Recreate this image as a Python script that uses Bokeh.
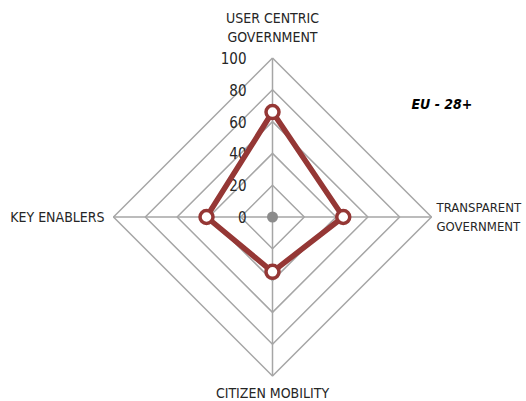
import math
from bokeh.plotting import figure
from bokeh.models import Range1d, Label
from bokeh.core.properties import value
from bokeh.embed import file_html
from bokeh.resources import INLINE

categories = ["USER CENTRIC\nGOVERNMENT", "TRANSPARENT\nGOVERNMENT", "CITIZEN MOBILITY", "KEY ENABLERS"]
angles_deg = [90, 0, -90, 180]
series_values = [66, 44.5, 34.5, 41.5]
tick_values = [0, 20, 40, 60, 80, 100]
tick_labels = ["0", "20", "40", "60", "80", "100"]
series_name = "EU - 28+"

FONT = "DejaVu Sans Condensed"
W, H = 526, 401
scale = 1.59  # px per unit
cx, cy = 272, 216.5  # center in figure px (from left, from top)

p = figure(width=W, height=H, output_backend="svg", toolbar_location=None,
           x_range=Range1d(-cx / scale, (W - cx) / scale),
           y_range=Range1d(-(H - cy) / scale, cy / scale),
           min_border=0, outline_line_color=None)
p.axis.visible = False
p.grid.visible = False
p.background_fill_color = "white"
p.border_fill_color = "white"

rad = [math.radians(a) for a in angles_deg]
rmax = tick_values[-1]

# grid rings
xs_ring, ys_ring = [], []
for t in tick_values[1:]:
    xs_ring.append([t * math.cos(a) for a in rad] + [t * math.cos(rad[0])])
    ys_ring.append([t * math.sin(a) for a in rad] + [t * math.sin(rad[0])])
p.multi_line(xs_ring, ys_ring, line_color="#a6a6a6", line_width=1.5)

# spokes
p.multi_line([[0, rmax * math.cos(a)] for a in rad], [[0, rmax * math.sin(a)] for a in rad],
             line_color="#a6a6a6", line_width=1.5)

# center dot
p.scatter([0], [0], size=11, fill_color="#8c8c8c", line_color=None)

# tick labels
p.text(x=[0] * len(tick_values), y=tick_values, text=tick_labels, x_offset=-26,
       text_align="right", text_baseline="middle", text_font=value(FONT),
       text_font_size="15px", text_color="#262626")

# series
sx = [v * math.cos(a) for v, a in zip(series_values, rad)]
sy = [v * math.sin(a) for v, a in zip(series_values, rad)]
p.line(sx + [sx[0]], sy + [sy[0]], line_color="#953735", line_width=5.5, line_join="round")
p.scatter(sx, sy, size=13, fill_color="white", line_color="#953735", line_width=3.5)

# category labels
lab_r = rmax
common = dict(text_font=value(FONT), text_font_size="14px", text_color="#262626",
              text_line_height=1.2)
# top
p.text(x=[0], y=[lab_r], text=[categories[0]], text_align="center", text_baseline="bottom",
       y_offset=-13, **common)
# right
p.text(x=[lab_r], y=[0], text=[categories[1]], text_align="left", text_baseline="middle",
       x_offset=5, text_font=value(FONT), text_font_size="13px", text_color="#262626",
       text_line_height=1.25)
# bottom
p.text(x=[0], y=[-lab_r], text=[categories[2]], text_align="center", text_baseline="top",
       y_offset=9, **common)
# left
p.text(x=[-lab_r], y=[0], text=[categories[3]], text_align="right", text_baseline="middle",
       x_offset=-9, **common)

# series title
p.add_layout(Label(x=411, y=H - 103, x_units="screen", y_units="screen", text=series_name,
                   text_font=FONT, text_font_size="14px", text_font_style="bold italic",
                   text_color="#000000", text_baseline="middle"))

open("out.html", "w").write(file_html(p, INLINE))
